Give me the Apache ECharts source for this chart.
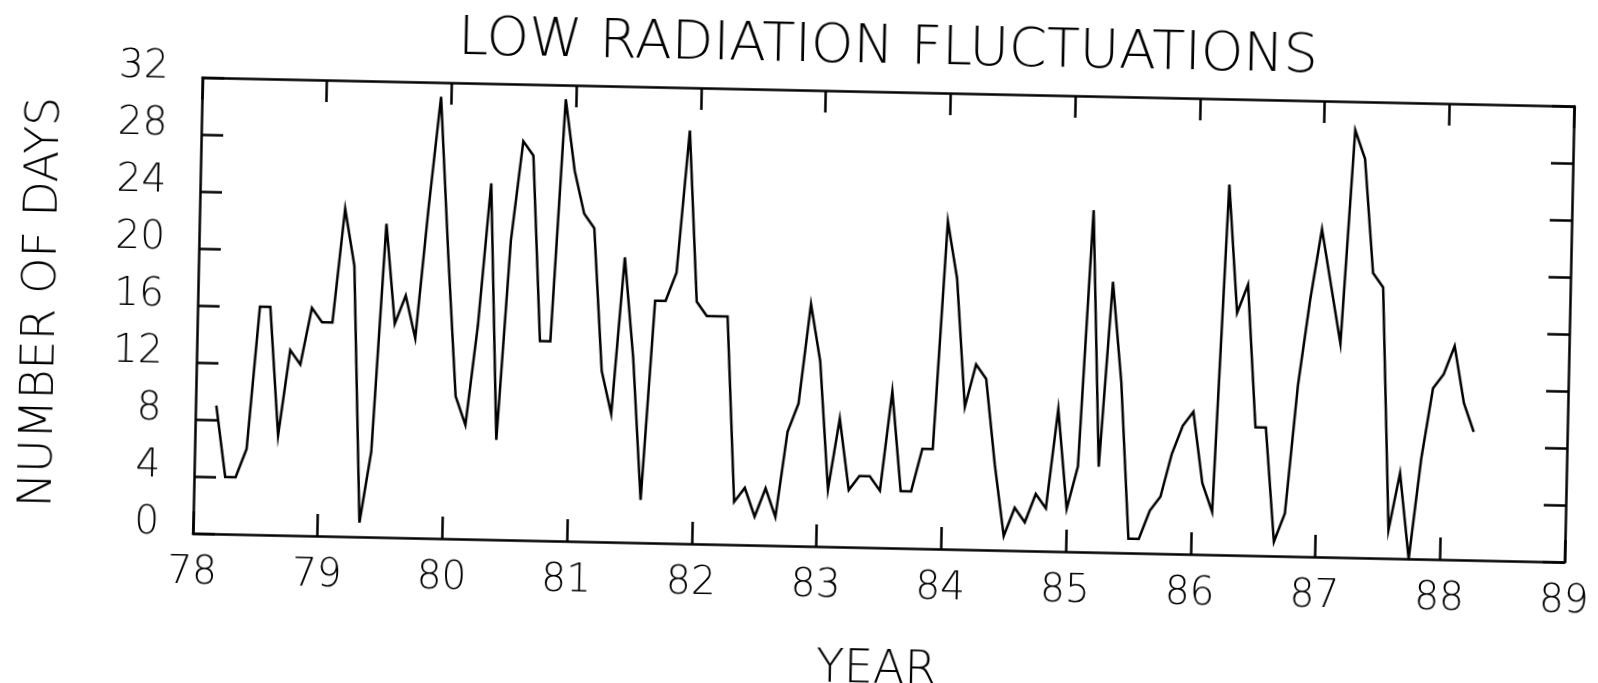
<!DOCTYPE html>
<html><head><meta charset="utf-8">
<script src="https://cdn.jsdelivr.net/npm/echarts@6/dist/echarts.min.js"></script>
<style>
html,body{margin:0;padding:0;background:#fff;overflow:hidden;}
#chart{width:1598px;height:683px;transform:rotate(1.2deg);transform-origin:799px 341.5px;}
</style></head><body><div id="chart"></div>
<script>
const titleText = 'LOW RADIATION FLUCTUATIONS';
const xAxisName = 'YEAR';
const yAxisName = 'NUMBER OF DAYS';
const xTicks = [78, 79, 80, 81, 82, 83, 84, 85, 86, 87, 88, 89];
const yTicks = [0, 4, 8, 12, 16, 20, 24, 28, 32];
// first plotted month: March 1978 (month index 2 of 1978)
const firstYear = 78;
const firstMonthIndex = 2;
const days1978 = [9, 4, 4, 6, 16, 16, 7, 13, 12, 16];
const days1979 = [15, 15, 23, 19, 1, 6, 22, 15, 17, 14, 23, 31];
const days1980 = [20, 10, 8, 15, 25, 7, 21, 28, 27, 14, 14, 31];
const days1981 = [26, 23, 22, 12, 9, 20, 13, 3, 17, 17, 19, 29];
const days1982 = [17, 16, 16, 16, 3, 4, 2, 4, 2, 8, 10, 17];
const days1983 = [13, 4, 9, 4, 5, 5, 4, 11, 4, 4, 7, 7];
const days1984 = [23, 19, 10, 13, 12, 6, 1, 3, 2, 4, 3, 10];
const days1985 = [3, 6, 24, 6, 19, 12, 1, 1, 3, 4, 7, 9];
const days1986 = [10, 5, 3, 26, 17, 19, 9, 9, 1, 3, 12, 18];
const days1987 = [23, 19, 15, 30, 28, 20, 19, 2, 6, 0, 7, 12];
const days1988 = [13, 15, 11, 9];

const allDays = [].concat(days1978, days1979, days1980, days1981, days1982,
  days1983, days1984, days1985, days1986, days1987, days1988);
const seriesData = allDays.map((v, i) => [firstYear + (firstMonthIndex + i) / 12, v]);

const FONT = 'DejaVu Sans';
const black = '#000';
const lineW = 2.5;
function axisCommon() {
  return {
    axisLine: { show: true, onZero: false, lineStyle: { color: black, width: lineW } },
    axisTick: { show: true, inside: true, length: 22, lineStyle: { color: black, width: lineW } },
    splitLine: { show: false }
  };
}

const chart = echarts.init(document.getElementById('chart'), null, { renderer: 'canvas', width: 1598, height: 683 });
chart.setOption({
  animation: false,
  backgroundColor: '#fff',
  grid: { left: 197, right: 29, top: 90, bottom: 137, containLabel: false, outerBoundsMode: 'none' },
  graphic: [{
    type: 'text', x: 882, y: 47,
    style: { text: titleText, font: '200 54px "' + FONT + '"', fill: black, textAlign: 'center', textVerticalAlign: 'middle' }
  }],
  xAxis: [
    Object.assign({
      type: 'value', position: 'bottom', min: xTicks[0], max: xTicks[xTicks.length - 1], interval: 1,
      axisLabel: { color: black, fontSize: 39, fontFamily: FONT, fontWeight: 200, margin: 20, showMinLabel: true, showMaxLabel: true },
      name: xAxisName, nameLocation: 'middle', nameGap: 100,
      nameTextStyle: { color: black, fontSize: 46, fontFamily: FONT, fontWeight: 200 }
    }, axisCommon()),
    Object.assign({
      type: 'value', position: 'top', min: xTicks[0], max: xTicks[xTicks.length - 1], interval: 1,
      axisLabel: { show: false }
    }, axisCommon())
  ],
  yAxis: [
    Object.assign({
      type: 'value', position: 'left', min: yTicks[0], max: yTicks[yTicks.length - 1], interval: 4,
      axisLabel: { color: black, fontSize: 39, fontFamily: FONT, fontWeight: 200, margin: 34, verticalAlign: 'bottom', lineHeight: 18, showMinLabel: true, showMaxLabel: true },
      name: yAxisName, nameLocation: 'middle', nameGap: 132,
      nameTextStyle: { color: black, fontSize: 46, fontFamily: FONT, fontWeight: 200 }
    }, axisCommon()),
    Object.assign({
      type: 'value', position: 'right', min: yTicks[0], max: yTicks[yTicks.length - 1], interval: 4,
      axisLabel: { show: false }
    }, axisCommon())
  ],
  series: [{
    type: 'line', xAxisIndex: 0, yAxisIndex: 0, data: seriesData,
    showSymbol: false, symbol: 'none',
    lineStyle: { color: black, width: lineW, join: 'miter' }
  }]
});
</script></body></html>
